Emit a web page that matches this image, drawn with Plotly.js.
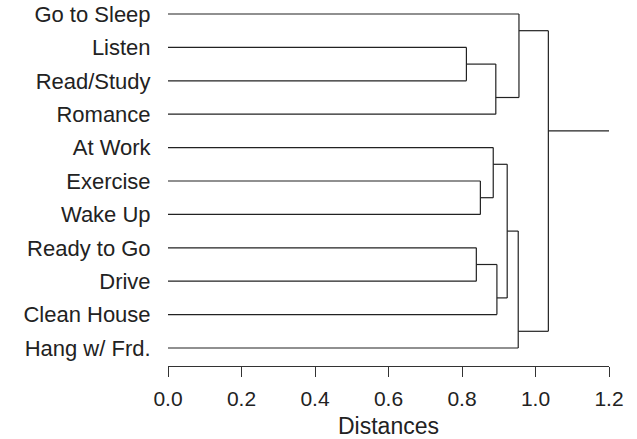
<!DOCTYPE html>
<html><head><meta charset="utf-8">
<script src="https://cdn.plot.ly/plotly-3.0.1.min.js"></script>
<style>html,body{margin:0;padding:0;background:#fff}#c{width:637px;height:439px}</style>
</head><body><div id="c"></div>
<script>
// Leaves, top to bottom
const leaves = ["Go to Sleep","Listen","Read/Study","Romance","At Work","Exercise","Wake Up","Ready to Go","Drive","Clean House","Hang w/ Frd."];
// Merges: child A (upper), child B (lower), height. "#k" refers to merge k (1-based)
const mergeA = ["Listen","Ready to Go","Exercise","At Work","#1","#2","#4","#7","Go to Sleep","#9"];
const mergeB = ["Read/Study","Drive","Wake Up","#3","Romance","Clean House","#6","Hang w/ Frd.","#5","#8"];
const mergeH = [0.812,0.839,0.850,0.885,0.892,0.895,0.923,0.953,0.955,1.035];
const xTicks = [0,0.2,0.4,0.6,0.8,1.0,1.2];
const xTickText = ["0.0","0.2","0.4","0.6","0.8","1.0","1.2"];
const xMax = 1.2;

const nodes = {};
leaves.forEach((n,i)=>{nodes[n]={y:i,h:0,min:i,max:i};});
const xs=[], ys=[];
function seg(x0,y0,x1,y1){xs.push(x0,x1,null);ys.push(y0,y1,null);}
let last;
mergeA.forEach((a,k)=>{
  const A=nodes[a], B=nodes[mergeB[k]], h=mergeH[k];
  const top = A.y<B.y?A:B, bot = A.y<B.y?B:A;
  seg(A.h,A.y,h,A.y); seg(B.h,B.y,h,B.y); seg(h,A.y,h,B.y);
  const y=(top.max+bot.min)/2;
  last = nodes["#"+(k+1)] = {y:y,h:h,min:Math.min(A.min,B.min),max:Math.max(A.max,B.max)};
});
seg(last.h,last.y,xMax,last.y);

const fam = "Liberation Sans, Arial, sans-serif";
Plotly.newPlot("c",[{
  x:xs,y:ys,type:"scatter",mode:"lines",line:{color:"#222",width:1.2},hoverinfo:"skip",showlegend:false
}],{
  width:637,height:439,margin:{l:168,r:28,t:0,b:73},
  paper_bgcolor:"#fff",plot_bgcolor:"#fff",
  xaxis:{range:[0,xMax],tickvals:xTicks,ticktext:xTickText,showgrid:false,zeroline:false,
    showline:true,linecolor:"#333",linewidth:1,ticks:"outside",ticklen:10,tickcolor:"#333",tickwidth:1,
    ticklabelstandoff:4,
    tickfont:{family:fam,size:21,color:"#222"},title:{text:"Distances",font:{family:fam,size:23,color:"#222"},standoff:10}},
  yaxis:{range:[10.539,-0.419],tickvals:leaves.map((_,i)=>i),ticktext:leaves,showgrid:false,zeroline:false,
    showline:false,ticks:"outside",ticklen:12,tickcolor:"rgba(0,0,0,0)",tickfont:{family:fam,size:22,color:"#222"}}
},{staticPlot:true});
</script></body></html>
